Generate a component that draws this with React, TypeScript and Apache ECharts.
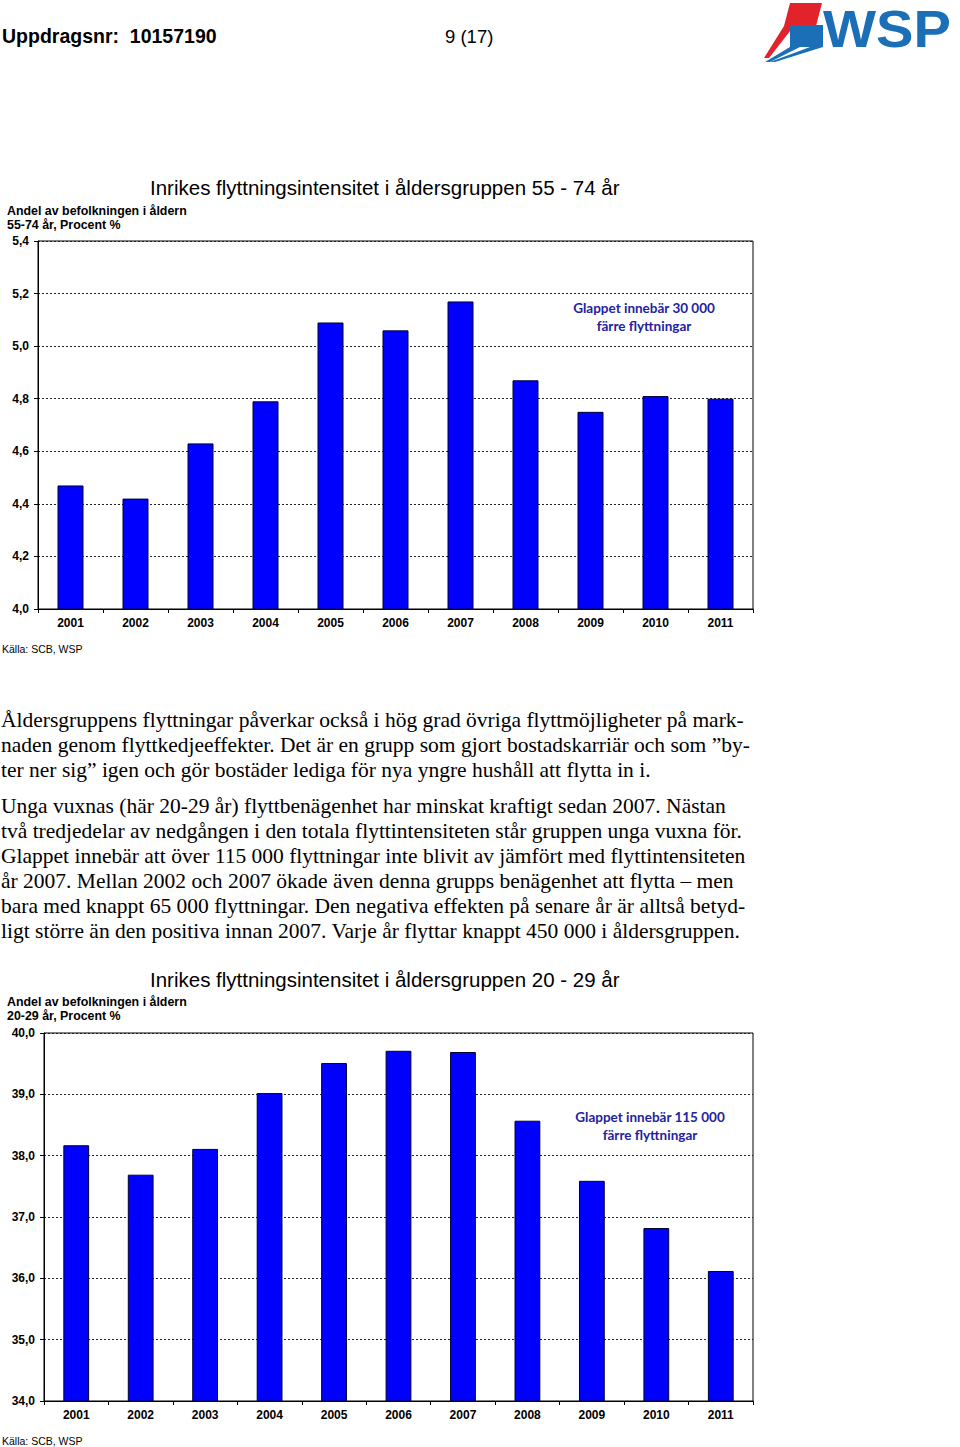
import React, { useEffect, useRef } from 'react';
import * as echarts from 'echarts';

// ---- Data ----
const years = ['2001', '2002', '2003', '2004', '2005', '2006', '2007', '2008', '2009', '2010', '2011'];
const share5574 = [4.47, 4.42, 4.63, 4.79, 5.09, 5.06, 5.17, 4.87, 4.75, 4.81, 4.8];
const share2029 = [38.17, 37.69, 38.11, 39.02, 39.51, 39.71, 39.69, 38.57, 37.59, 36.82, 36.12];
const axis5574 = { min: 4.0, max: 5.4, interval: 0.2 };
const axis2029 = { min: 34, max: 40, interval: 1 };

const headerLeft = 'Uppdragsnr:  10157190';
const headerPage = '9 (17)';
const title1 = 'Inrikes flyttningsintensitet i åldersgruppen 55 - 74 år';
const title2 = 'Inrikes flyttningsintensitet i åldersgruppen 20 - 29 år';
const yTitle1 = ['Andel av befolkningen i åldern', '55-74 år, Procent %'];
const yTitle2 = ['Andel av befolkningen i åldern', '20-29 år, Procent %'];
const note1 = ['Glappet innebär 30 000', 'färre flyttningar'];
const note2 = ['Glappet innebär 115 000', 'färre flyttningar'];
const source = 'Källa: SCB, WSP';
const para1 = [
  'Åldersgruppens flyttningar påverkar också i hög grad övriga flyttmöjligheter på mark-',
  'naden genom flyttkedjeeffekter. Det är en grupp som gjort bostadskarriär och som ”by-',
  'ter ner sig” igen och gör bostäder lediga för nya yngre hushåll att flytta in i.',
];
const para2 = [
  'Unga vuxnas (här 20-29 år) flyttbenägenhet har minskat kraftigt sedan 2007. Nästan',
  'två tredjedelar av nedgången i den totala flyttintensiteten står gruppen unga vuxna för.',
  'Glappet innebär att över 115 000 flyttningar inte blivit av jämfört med flyttintensiteten',
  'år 2007. Mellan 2002 och 2007 ökade även denna grupps benägenhet att flytta – men',
  'bara med knappt 65 000 flyttningar. Den negativa effekten på senare år är alltså betyd-',
  'ligt större än den positiva innan 2007. Varje år flyttar knappt 450 000 i åldersgruppen.',
];

const SANS = '"Liberation Sans", Arial, sans-serif';
const SERIF = '"Liberation Serif", "Times New Roman", serif';
const NOTE = 'Lato, "Open Sans", sans-serif';

function txt(text: string, x: number, y: number, size: number, opts: any = {}) {
  const align = opts.align || 'left';
  return {
    type: 'text',
    x,
    y,
    silent: true,
    style: {
      text,
      fontSize: size,
      fontFamily: opts.family || SANS,
      fontWeight: opts.weight || 'normal',
      fill: opts.color || '#000',
      align,
      textAlign: align,
      verticalAlign: 'middle',
      textVerticalAlign: 'middle',
    },
  };
}

function xAxisFor(gridIndex: number) {
  return {
    type: 'category',
    gridIndex,
    data: years,
    axisLine: { lineStyle: { color: '#000', width: 1 } },
    axisTick: { show: true, length: 4, lineStyle: { color: '#000' } },
    axisLabel: { fontSize: 12, fontWeight: 'bold', color: '#000', fontFamily: SANS, margin: 8 },
    splitLine: { show: false },
  };
}

function yAxisFor(gridIndex: number, a: { min: number; max: number; interval: number }, margin: number) {
  return {
    type: 'value',
    gridIndex,
    min: a.min,
    max: a.max,
    interval: a.interval,
    axisLine: { show: true, lineStyle: { color: '#000', width: 1 } },
    axisTick: { show: true, length: 4, lineStyle: { color: '#000' } },
    axisLabel: {
      fontSize: 12,
      fontWeight: 'bold',
      color: '#000',
      fontFamily: SANS,
      margin,
      formatter: (v: number) => v.toFixed(1).replace('.', ','),
    },
    splitLine: { show: true, lineStyle: { color: '#222', width: 1, type: [2, 2] } },
  };
}

export default function App() {
  const ref = useRef<HTMLDivElement>(null);
  useEffect(() => {
    const chart = echarts.init(ref.current!, null, { renderer: 'svg' });

    const graphics: any[] = [];
    // header
    graphics.push(txt(headerLeft, 2, 36, 19.5, { weight: 'bold' }));
    graphics.push(txt(headerPage, 445, 36, 18.5));
    // WSP logo (approximation)
    graphics.push({ type: 'polygon', shape: { points: [[790, 3], [822, 3], [816, 26], [784, 26]] }, style: { fill: '#e3232b' } });
    graphics.push({ type: 'polygon', shape: { points: [[784, 26], [794, 26], [769, 58], [764, 58]] }, style: { fill: '#e3232b' } });
    graphics.push({ type: 'polygon', shape: { points: [[790, 25], [823, 25], [823, 47], [790, 47]] }, style: { fill: '#1b6fb6' } });
    graphics.push({ type: 'polygon', shape: { points: [[790, 47], [800, 47], [770, 62], [765, 62]] }, style: { fill: '#1b6fb6' } });
    graphics.push({ type: 'polygon', shape: { points: [[810, 47], [823, 47], [775, 62], [770, 62]] }, style: { fill: '#1b6fb6' } });
    graphics.push({
      type: 'text', x: 823, y: 29, scaleX: 1.08, silent: true,
      style: { text: 'WSP', fontSize: 52, fontWeight: 'bold', fontFamily: SANS, fill: '#1b6fb6', align: 'left', textAlign: 'left', verticalAlign: 'middle', textVerticalAlign: 'middle' },
    });

    // chart 1 texts
    graphics.push(txt(title1, 150, 187, 20.5));
    graphics.push(txt(yTitle1[0], 7, 211, 12.4, { weight: 'bold' }));
    graphics.push(txt(yTitle1[1], 7, 225, 12.4, { weight: 'bold' }));
    graphics.push(txt(note1[0], 644, 308, 13.5, { weight: 'bold', family: NOTE, color: '#2222a0', align: 'center' }));
    graphics.push(txt(note1[1], 644, 326, 13.5, { weight: 'bold', family: NOTE, color: '#2222a0', align: 'center' }));
    graphics.push(txt(source, 2, 649, 10.5));

    // body text
    para1.forEach((l, i) => graphics.push(txt(l, 1, 720 + i * 25, 21.5, { family: SERIF })));
    para2.forEach((l, i) => graphics.push(txt(l, 1, 806 + i * 25, 21.5, { family: SERIF })));

    // chart 2 texts
    graphics.push(txt(title2, 150, 979, 20.5));
    graphics.push(txt(yTitle2[0], 7, 1002, 12.4, { weight: 'bold' }));
    graphics.push(txt(yTitle2[1], 7, 1016, 12.4, { weight: 'bold' }));
    graphics.push(txt(note2[0], 650, 1117, 13.5, { weight: 'bold', family: NOTE, color: '#2222a0', align: 'center' }));
    graphics.push(txt(note2[1], 650, 1135, 13.5, { weight: 'bold', family: NOTE, color: '#2222a0', align: 'center' }));
    graphics.push(txt(source, 2, 1441, 10.5));

    const barStyle = { color: '#0000ff', borderColor: '#000033', borderWidth: 1 };

    chart.setOption({
      animation: false,
      backgroundColor: '#fff',
      grid: [
        { left: 38, top: 241, width: 715, height: 368, show: true, borderColor: '#000', borderWidth: 1, backgroundColor: 'transparent', containLabel: false },
        { left: 44, top: 1033, width: 709, height: 368, show: true, borderColor: '#000', borderWidth: 1, backgroundColor: 'transparent', containLabel: false },
      ],
      xAxis: [xAxisFor(0), xAxisFor(1)],
      yAxis: [yAxisFor(0, axis5574, 9), yAxisFor(1, axis2029, 9)],
      series: [
        { type: 'bar', xAxisIndex: 0, yAxisIndex: 0, data: share5574, barWidth: '40%', itemStyle: barStyle, silent: true },
        { type: 'bar', xAxisIndex: 1, yAxisIndex: 1, data: share2029, barWidth: '40%', itemStyle: barStyle, silent: true },
      ],
      graphic: graphics,
    });
    return () => chart.dispose();
  }, []);
  return <div ref={ref} style={{ position: 'absolute', left: 0, top: 0, width: 960, height: 1447, background: '#fff' }} />;
}
